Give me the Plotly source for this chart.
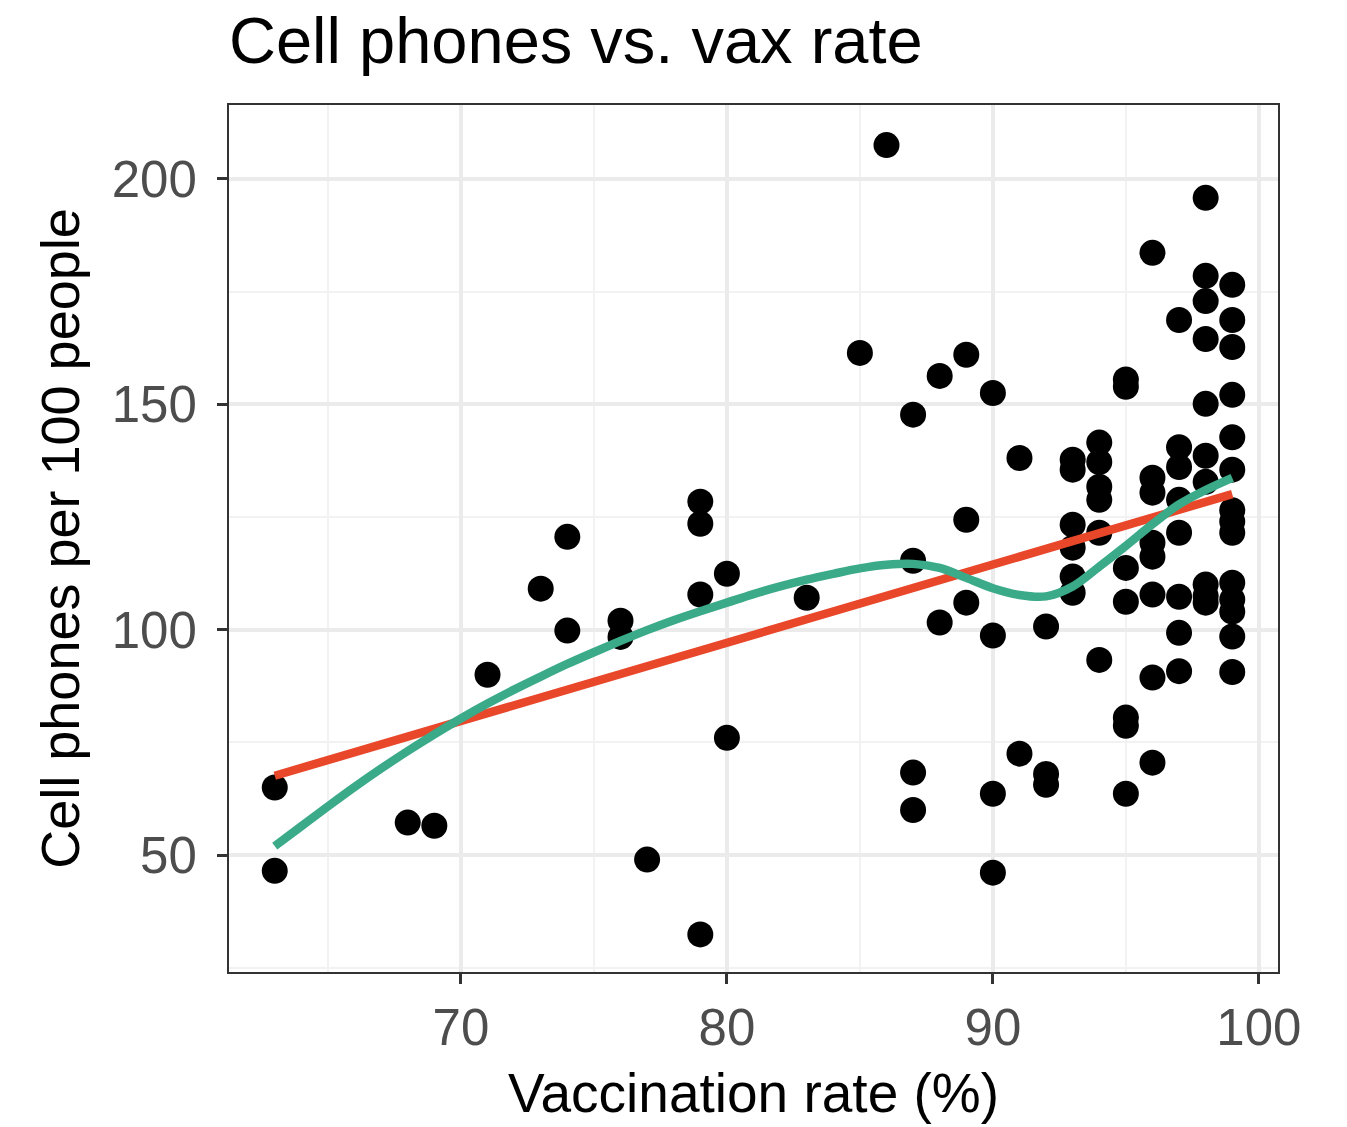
import numpy as np
import plotly.graph_objects as go

# Vaccination rate (%) and cell phones per 100 people, one entry per country
vax_rate = [
    63, 63,
    68, 69, 71, 73,
    74, 74, 76, 76, 77,
    79, 79, 79, 79, 80, 80, 83, 85, 86,
    87, 87, 87, 87, 88, 88, 89, 89, 89,
    90, 90, 90, 90, 91, 91, 92, 92, 92,
    93, 93, 93, 93, 93, 93,
    94, 94, 94, 94, 94, 94,
    95, 95, 95, 95, 95, 95, 95,
    96, 96, 96, 96, 96, 96, 96, 96,
    97, 97, 97, 97, 97, 97, 97, 97,
    98, 98, 98, 98, 98, 98, 98, 98, 98, 98,
    99, 99, 99, 99, 99, 99, 99, 99, 99, 99, 99, 99, 99, 99,
]
cell_phones = [
    65.0, 46.5,
    57.2, 56.5, 90.0, 109.1,
    120.6, 99.8, 102.0, 98.4, 49.0,
    128.4, 123.5, 107.8, 32.4, 112.4, 76.0, 107.1, 161.4, 207.5,
    147.7, 115.3, 68.3, 60.0, 156.3, 101.6, 161.0, 124.4, 106.0,
    152.5, 98.7, 63.6, 46.1, 138.1, 72.5, 100.7, 68.0, 65.6,
    137.7, 135.5, 123.3, 118.2, 111.8, 108.2,
    141.5, 137.2, 131.7, 128.8, 121.5, 93.3,
    155.5, 153.9, 113.7, 106.2, 80.5, 78.7, 63.6,
    183.6, 133.7, 130.4, 119.3, 116.2, 107.8, 89.4, 70.5,
    168.7, 140.5, 136.1, 128.8, 121.5, 107.3, 99.3, 90.8,
    195.8, 178.5, 172.9, 164.5, 150.1, 138.6, 132.8, 110.0, 107.5, 106.0,
    176.5, 168.7, 162.7, 152.1, 142.7, 135.5, 126.5, 124.0, 121.5, 110.4,
    106.7, 104.0, 98.5, 90.6,
]

# Local (loess) trend evaluated along the vaccination range
smooth_x = [63, 64, 65, 66, 67, 68, 69, 70, 71, 72, 73, 74, 75, 76, 77, 78, 79, 80,
            81, 82, 83, 84, 85, 86, 87, 88, 89, 90, 91, 92, 93, 94, 95, 96, 97, 98, 99]
smooth_y = [52.0, 56.4, 60.8, 65.1, 69.2, 73.1, 76.8, 80.3, 83.6, 86.7, 89.6, 92.4,
            95.0, 97.5, 99.9, 102.1, 104.1, 106.0, 107.9, 109.6, 111.1, 112.4, 113.6,
            114.4, 114.6, 113.7, 111.5, 109.2, 107.7, 107.4, 109.6, 114.0, 118.6,
            123.4, 127.8, 131.0, 133.7]

x_ticks = [70, 80, 90, 100]
y_ticks = [50, 100, 150, 200]

# Ordinary least-squares line over the observed range
slope, intercept = np.polyfit(vax_rate, cell_phones, 1)
fit_x = [min(vax_rate), max(vax_rate)]
fit_y = [slope * v + intercept for v in fit_x]

FONT = "Liberation Sans, Arial, Helvetica, sans-serif"

fig = go.Figure()
fig.add_trace(go.Scatter(
    x=vax_rate, y=cell_phones, mode="markers",
    marker=dict(size=26, color="black", line=dict(width=0)),
    showlegend=False, hoverinfo="x+y",
))
fig.add_trace(go.Scatter(
    x=fit_x, y=fit_y, mode="lines",
    line=dict(color="#E9472A", width=8.5),
    showlegend=False,
))
fig.add_trace(go.Scatter(
    x=smooth_x, y=smooth_y, mode="lines",
    line=dict(color="#3AAA88", width=8.5, shape="spline", smoothing=1.0),
    showlegend=False,
))

grid_major = "#EBEBEB"
fig.update_layout(
    width=1347, height=1127,
    paper_bgcolor="white", plot_bgcolor="white",
    margin=dict(l=229, r=69, t=105, b=155),
    font=dict(family=FONT, color="black"),
    title=dict(
        text="Cell phones vs. vax rate",
        font=dict(size=65, color="black", family=FONT),
        x=0, xanchor="left", xref="paper",
        y=1 - 40 / 1127, yanchor="middle",
    ),
)
fig.update_xaxes(
    range=[61.28, 100.72],
    tickvals=x_ticks, ticktext=[str(v) for v in x_ticks],
    tickfont=dict(size=51, color="#4D4D4D", family=FONT),
    ticks="outside", ticklen=10, tickwidth=2.5, tickcolor="#333333",
    showgrid=True, gridcolor=grid_major, gridwidth=3.5,
    minor=dict(tickvals=[65, 75, 85, 95], showgrid=True, gridcolor="#F2F2F2", gridwidth=2),
    showline=True, linecolor="#333333", linewidth=2, mirror=True,
    zeroline=False,
    title=dict(text="Vaccination rate (%)", font=dict(size=55, color="black", family=FONT),
               standoff=18),
)
fig.update_yaxes(
    range=[24.06, 216.4],
    tickvals=y_ticks, ticktext=[str(v) for v in y_ticks],
    tickfont=dict(size=51, color="#4D4D4D", family=FONT),
    ticks="outside", ticklen=10, tickwidth=2.5, tickcolor="#333333",
    ticklabelstandoff=10,
    showgrid=True, gridcolor=grid_major, gridwidth=3.5,
    minor=dict(tickvals=[25, 75, 125, 175], showgrid=True, gridcolor="#F2F2F2", gridwidth=2),
    showline=True, linecolor="#333333", linewidth=2, mirror=True,
    zeroline=False,
    title=dict(text="Cell phones per 100 people", font=dict(size=54, color="black", family=FONT),
               standoff=15),
)

fig.write_html("out.html")
